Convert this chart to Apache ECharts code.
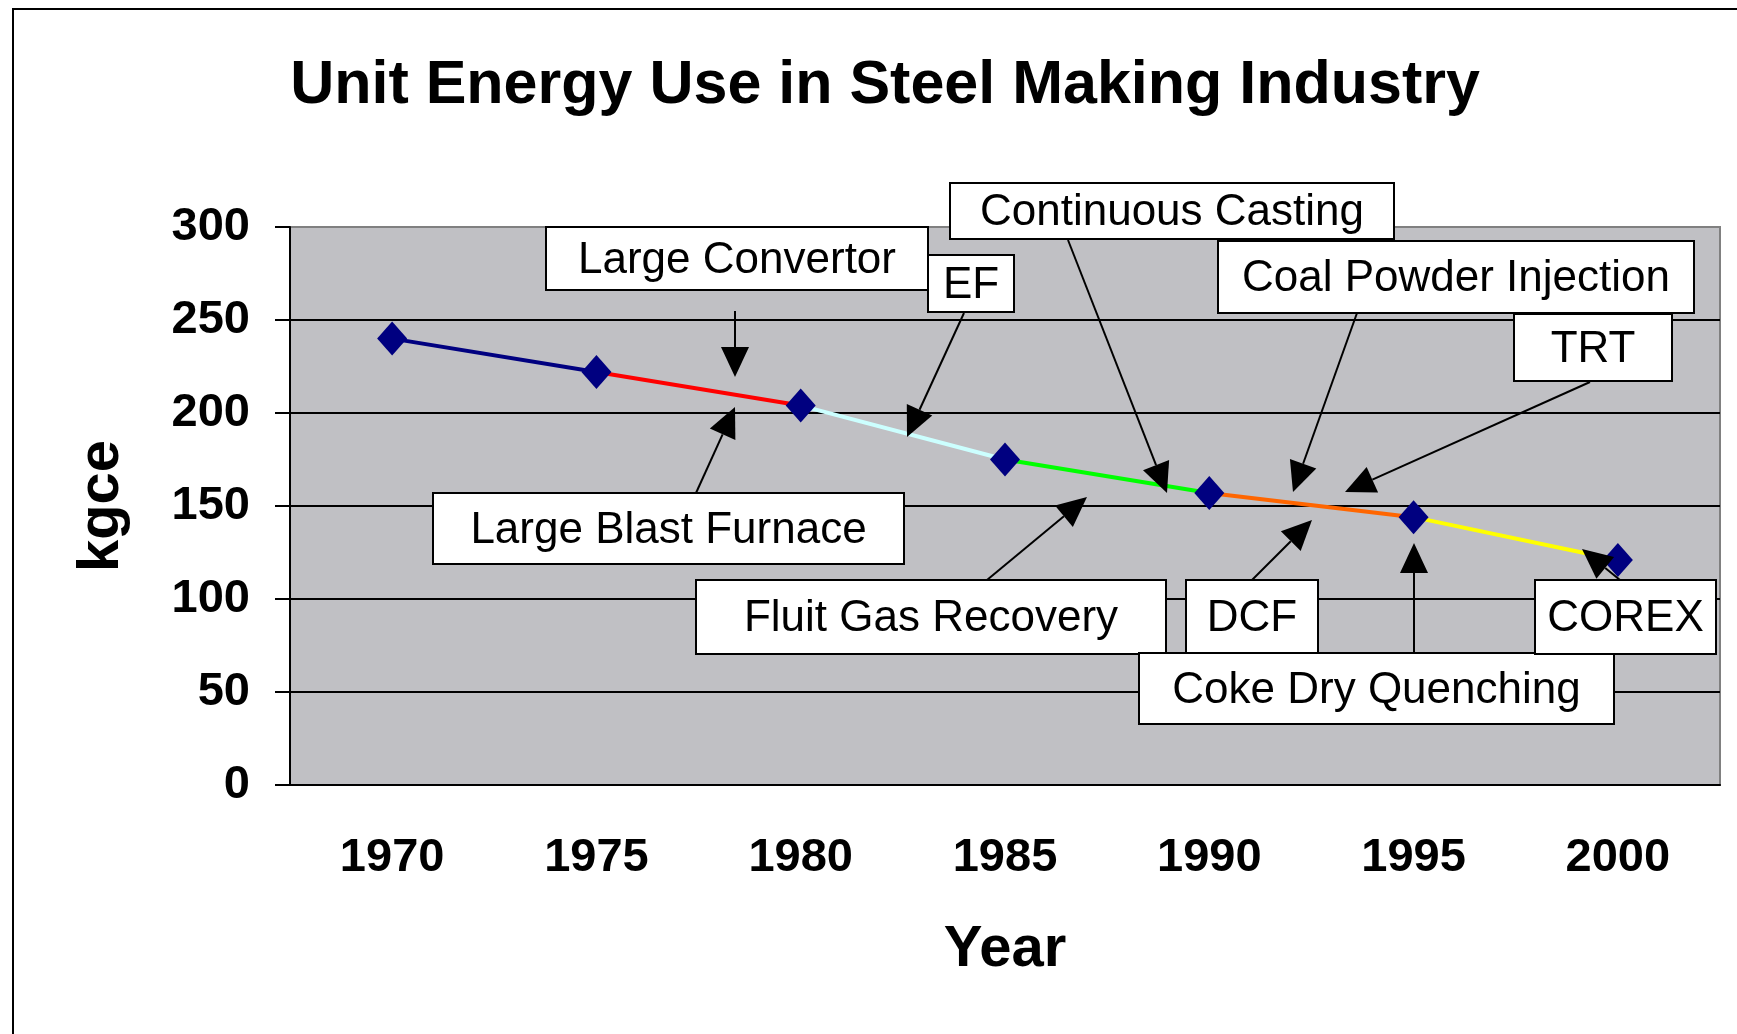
<!DOCTYPE html>
<html>
<head>
<meta charset="utf-8">
<title>Unit Energy Use in Steel Making Industry</title>
<script src="https://cdn.jsdelivr.net/npm/echarts@6/dist/echarts.min.js"></script>
<style>
  html, body { margin: 0; padding: 0; background: #ffffff; }
  #main { width: 1737px; height: 1034px; }
</style>
</head>
<body>
<div id="main"></div>
<script>
// data
const years = ['1970', '1975', '1980', '1985', '1990', '1995', '2000']
const energyUse = [240, 222, 204, 175, 157, 144, 121]
// colour of the line from years[i] to years[i + 1]
const segmentColors = ['#000080', '#ff0000', '#ccffff', '#00ff00', '#ff6600', '#ffff00']

// callouts: box [x, y, w, h] and arrow [fromX, fromY, toX, toY] in pixels
const notes = [
  { text: 'Large Convertor', box: [546, 227, 382, 63], arrow: [735, 311, 735, 377] },
  { text: 'EF', box: [928, 255, 86, 57], arrow: [964, 313, 907, 437] },
  { text: 'Large Blast Furnace', box: [433, 493, 471, 71], arrow: [696, 493, 735, 407] },
  { text: 'Continuous Casting', box: [950, 183, 444, 56], arrow: [1068, 240, 1167, 493] },
  { text: 'Coal Powder Injection', box: [1218, 241, 476, 72], arrow: [1357, 313, 1293, 492] },
  { text: 'TRT', box: [1514, 314, 158, 67], arrow: [1590, 382, 1345, 492] },
  { text: 'Fluit Gas Recovery', box: [696, 580, 470, 74], arrow: [987, 580, 1087, 497] },
  { text: 'DCF', box: [1186, 580, 132, 74], arrow: [1252, 580, 1312, 520] },
  { text: 'Coke Dry Quenching', box: [1139, 653, 475, 71], arrow: [1414, 653, 1414, 543] },
  { text: 'COREX', box: [1535, 580, 181, 74], arrow: [1620, 580, 1582, 549] }
]

const font = '"Liberation Sans", Arial, sans-serif'

const series = []
for (let i = 0; i < segmentColors.length; i++) {
  const d = years.map(() => '-')
  d[i] = energyUse[i]
  d[i + 1] = energyUse[i + 1]
  series.push({
    type: 'line',
    data: d,
    showSymbol: false,
    silent: true,
    z: 3,
    lineStyle: { color: segmentColors[i], width: 4 }
  })
}
series.push({
  type: 'scatter',
  data: energyUse,
  symbol: 'diamond',
  symbolSize: [30, 34],
  z: 4,
  itemStyle: { color: '#000080', opacity: 1 }
})

// callout boxes and arrows
const graphics = [
  {
    type: 'rect',
    shape: { x: 13, y: 9, width: 1800, height: 1100 },
    style: { fill: 'none', stroke: '#000000', lineWidth: 2 },
    z: 1
  }
]
notes.forEach(n => {
  const [x1, y1, x2, y2] = n.arrow
  const ang = Math.atan2(y2 - y1, x2 - x1)
  const len = 30
  const half = 14
  const bx = x2 - len * Math.cos(ang)
  const by = y2 - len * Math.sin(ang)
  const px = -Math.sin(ang) * half
  const py = Math.cos(ang) * half
  graphics.push({
    type: 'line',
    shape: { x1: x1, y1: y1, x2: bx, y2: by },
    style: { stroke: '#000000', lineWidth: 2 },
    z: 10
  })
  graphics.push({
    type: 'polygon',
    shape: { points: [[x2, y2], [bx + px, by + py], [bx - px, by - py]] },
    style: { fill: '#000000' },
    z: 10
  })
  graphics.push({
    type: 'rect',
    shape: { x: n.box[0], y: n.box[1], width: n.box[2], height: n.box[3] },
    style: { fill: '#ffffff', stroke: '#000000', lineWidth: 2 },
    z: 11
  })
  graphics.push({
    type: 'text',
    x: n.box[0] + n.box[2] / 2,
    y: n.box[1] + n.box[3] / 2 + 2,
    style: {
      text: n.text,
      font: '44px ' + font,
      fill: '#000000',
      align: 'center',
      verticalAlign: 'middle'
    },
    z: 12
  })
})

const chart = echarts.init(document.getElementById('main'))
chart.setOption({
  animation: false,
  backgroundColor: '#ffffff',
  title: {
    text: 'Unit Energy Use in Steel Making Industry',
    left: 880,
    top: 51,
    textAlign: 'center',
    textStyle: { fontFamily: font, fontSize: 61, fontWeight: 'bold', color: '#000000' }
  },
  grid: {
    left: 290,
    right: 17,
    top: 227,
    bottom: 249,
    show: true,
    backgroundColor: '#c0c0c4',
    borderColor: '#808080',
    borderWidth: 2
  },
  xAxis: {
    type: 'category',
    data: years,
    name: 'Year',
    nameLocation: 'middle',
    nameGap: 136,
    nameTextStyle: { fontFamily: font, fontSize: 58, fontWeight: 'bold', color: '#000000' },
    axisLine: { lineStyle: { color: '#000000', width: 2 } },
    axisTick: { length: 12, lineStyle: { color: '#000000', width: 2 } },
    axisLabel: { margin: 50, fontFamily: font, fontSize: 47, fontWeight: 'bold', color: '#000000' },
    splitLine: { show: false }
  },
  yAxis: {
    type: 'value',
    min: 0,
    max: 300,
    interval: 50,
    name: 'kgce',
    nameLocation: 'middle',
    nameGap: 159,
    nameRotate: 90,
    nameTextStyle: { fontFamily: font, fontSize: 58, fontWeight: 'bold', color: '#000000' },
    axisLine: { show: true, lineStyle: { color: '#000000', width: 2 } },
    axisTick: { show: true, length: 15, lineStyle: { color: '#000000', width: 2 } },
    axisLabel: { margin: 40, fontFamily: font, fontSize: 47, fontWeight: 'bold', color: '#000000' },
    splitLine: {
      show: true,
      lineStyle: {
        color: ['#000000', '#000000', '#000000', '#000000', '#000000', '#000000', '#808080'],
        width: 2
      }
    }
  },
  series: series,
  graphic: graphics
})
</script>
</body>
</html>
